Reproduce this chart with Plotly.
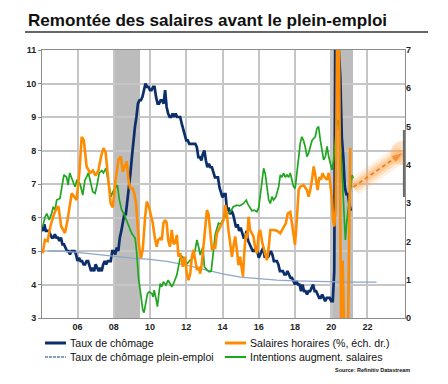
import plotly.graph_objects as go

# ---------------- data ----------------
# Taux de chômage (monthly, Jan 2004 -> Feb 2021), left axis
unemp_start = 2004.0
unemp = [
    5.7, 5.6, 5.8, 5.6, 5.6, 5.6, 5.5, 5.4, 5.4, 5.5, 5.4, 5.4,
    5.3, 5.4, 5.2, 5.2, 5.1, 5.0, 5.0, 4.9, 5.0, 5.0, 5.0, 4.9,
    4.7, 4.8, 4.7, 4.7, 4.6, 4.6, 4.7, 4.7, 4.5, 4.4, 4.5, 4.4,
    4.6, 4.5, 4.4, 4.5, 4.4, 4.6, 4.7, 4.6, 4.7, 4.7, 4.7, 5.0,
    5.0, 4.9, 5.1, 5.0, 5.4, 5.6, 5.8, 6.1, 6.1, 6.5, 6.8, 7.3,
    7.8, 8.3, 8.7, 9.0, 9.4, 9.5, 9.5, 9.6, 9.8, 10.0, 9.9, 9.9,
    9.8, 9.8, 9.9, 9.9, 9.6, 9.4, 9.4, 9.5, 9.5, 9.4, 9.8, 9.3,
    9.1, 9.0, 9.0, 9.1, 9.0, 9.1, 9.0, 9.0, 9.0, 8.8, 8.6, 8.5,
    8.3, 8.3, 8.2, 8.2, 8.2, 8.2, 8.2, 8.1, 7.8, 7.8, 7.7, 7.9,
    8.0, 7.7, 7.5, 7.6, 7.5, 7.5, 7.3, 7.2, 7.2, 7.2, 6.9, 6.7,
    6.6, 6.7, 6.7, 6.2, 6.3, 6.1, 6.2, 6.1, 5.9, 5.7, 5.8, 5.6,
    5.7, 5.5, 5.4, 5.4, 5.6, 5.3, 5.2, 5.1, 5.0, 5.0, 5.1, 5.0,
    4.8, 4.9, 5.0, 5.1, 4.8, 4.9, 4.8, 4.9, 5.0, 4.9, 4.7, 4.7,
    4.7, 4.6, 4.4, 4.4, 4.4, 4.3, 4.3, 4.4, 4.3, 4.2, 4.2, 4.1,
    4.0, 4.1, 4.0, 4.0, 3.8, 4.0, 3.8, 3.8, 3.7, 3.8, 3.8, 3.9,
    4.0, 3.8, 3.8, 3.7, 3.6, 3.6, 3.7, 3.6, 3.5, 3.6, 3.6, 3.6,
    3.5, 3.5, 4.4, 14.7, 13.2, 11.0, 10.2, 8.4, 7.8, 6.9, 6.7, 6.7,
    6.4, 6.2,
]
unemp_x = [unemp_start + i / 12 for i in range(len(unemp))]

# Taux de chômage plein-emploi, left axis
nairu_x = [2004.4, 2005, 2006, 2007, 2008, 2009, 2010, 2011, 2012, 2013, 2014,
           2015, 2016, 2017, 2018, 2019, 2020, 2021, 2022.5]
nairu = [5.0, 5.0, 4.96, 4.9, 4.84, 4.79, 4.75, 4.68, 4.58, 4.45, 4.32,
         4.22, 4.17, 4.13, 4.11, 4.09, 4.08, 4.07, 4.07]

# Salaires horaires (%, right axis)
wage_x = [2004.08, 2004.2, 2004.35, 2004.5, 2004.7, 2004.85, 2004.95, 2005.1, 2005.31, 2005.45,
          2005.68, 2005.8, 2005.95, 2006.1, 2006.23, 2006.35, 2006.5, 2006.69, 2006.85, 2007.0,
          2007.15, 2007.3, 2007.43, 2007.55, 2007.7, 2007.83, 2007.95, 2008.1, 2008.26, 2008.39,
          2008.5, 2008.62, 2008.72, 2008.81, 2008.9, 2009.03, 2009.13, 2009.23, 2009.3, 2009.4,
          2009.5, 2009.6, 2009.73, 2009.82, 2009.95, 2010.15, 2010.27, 2010.37, 2010.45, 2010.55,
          2010.65, 2010.74, 2010.83, 2010.92, 2011.0, 2011.1, 2011.2, 2011.3, 2011.4, 2011.48,
          2011.57, 2011.67, 2011.81, 2011.93, 2012.03, 2012.12, 2012.22, 2012.31, 2012.4, 2012.5,
          2012.59, 2012.68, 2012.77, 2012.86, 2012.95, 2013.04, 2013.14, 2013.23, 2013.32, 2013.42,
          2013.5, 2013.6, 2013.69, 2013.78, 2013.87, 2013.97, 2014.06, 2014.15, 2014.24, 2014.33,
          2014.43, 2014.52, 2014.6, 2014.7, 2014.8, 2014.88, 2014.97, 2015.07, 2015.13, 2015.2,
          2015.29, 2015.36, 2015.44, 2015.52, 2015.71, 2015.8, 2015.9, 2016.0, 2016.08, 2016.2,
          2016.35, 2016.45, 2016.55, 2016.64, 2016.82, 2017.0, 2017.19, 2017.37, 2017.5, 2017.6,
          2017.74, 2017.83, 2017.92, 2018.0, 2018.1, 2018.2, 2018.29, 2018.47, 2018.56, 2018.66,
          2018.75, 2018.84, 2018.94, 2019.03, 2019.1, 2019.17, 2019.25, 2019.34, 2019.43, 2019.52,
          2019.62, 2019.77, 2019.86, 2019.95, 2020.04, 2020.1, 2020.17, 2020.25, 2020.33, 2020.42,
          2020.55, 2020.63, 2020.72, 2020.92, 2021.05]
wage = [1.69, 2.04, 2.01, 2.39, 2.71, 2.87, 2.91, 2.39, 2.22, 2.56,
        3.26, 3.18, 3.08, 3.79, 4.73, 4.64, 3.96, 3.79, 3.85, 3.72,
        3.85, 4.22, 4.44, 4.33, 3.50, 2.99, 2.89, 3.61, 4.13, 4.22,
        3.82, 3.99, 4.09, 3.61, 3.39, 3.39, 3.26, 2.99, 2.54, 1.86,
        1.56, 1.79, 2.64, 3.04, 2.89, 2.48, 2.08, 1.86, 2.04, 2.08,
        2.04, 2.48, 2.56, 2.49, 2.04, 1.86, 2.30, 1.93, 1.97, 2.17,
        1.60, 1.69, 1.34, 1.60, 1.16, 0.99, 1.16, 1.60, 1.78, 1.43,
        1.25, 1.34, 1.16, 1.43, 1.95, 2.43, 2.82, 2.71, 2.30, 1.78,
        1.86, 1.84, 2.21, 2.30, 2.39, 2.48, 2.56, 2.95, 2.71, 2.28,
        1.95, 1.60, 1.86, 2.13, 1.75, 1.38, 1.60, 1.34, 1.08, 1.69,
        2.21, 2.08, 2.64, 2.30, 2.13, 1.84, 1.69, 2.21, 2.30, 1.95,
        1.66, 1.51, 1.84, 2.30, 2.30, 2.28, 2.21, 2.39, 2.48, 2.73,
        2.77, 2.48, 2.13, 1.91, 2.56, 3.34, 3.43, 3.47, 3.41, 3.34,
        3.17, 3.34, 3.61, 3.96, 3.79, 3.50, 3.34, 3.68, 3.61, 3.78,
        3.68, 3.61, 3.79, 3.50, 3.08, 2.56, 2.39, 2.89, 8.0, 7.5,
        -0.5, 1.5, -0.5, -0.5, 4.44]

# Intentions augment. salaires, left axis
intent_x = [2004.08, 2004.2, 2004.3, 2004.44, 2004.57, 2004.66, 2004.76, 2004.85, 2005.03, 2005.13,
            2005.25, 2005.4, 2005.48, 2005.57, 2005.73, 2005.86, 2005.96, 2006.14, 2006.29, 2006.41,
            2006.51, 2006.6, 2006.69, 2006.84, 2006.97, 2007.06, 2007.2, 2007.34, 2007.43, 2007.57,
            2007.65, 2007.76, 2007.85, 2007.95, 2008.13, 2008.2, 2008.31, 2008.44, 2008.55, 2008.65,
            2008.81, 2008.99, 2009.18, 2009.27, 2009.36, 2009.49, 2009.6, 2009.67, 2009.77, 2009.86,
            2009.95, 2010.1, 2010.17, 2010.23, 2010.33, 2010.41, 2010.48, 2010.56, 2010.65, 2010.74,
            2010.88, 2011.0, 2011.1, 2011.2, 2011.3, 2011.48, 2011.66, 2011.8, 2011.94, 2012.07,
            2012.21, 2012.35, 2012.49, 2012.59, 2012.68, 2012.77, 2012.92, 2013.0, 2013.14, 2013.27,
            2013.38, 2013.5, 2013.6, 2013.78, 2013.9, 2014.02, 2014.15, 2014.28, 2014.43, 2014.6,
            2014.8, 2014.95, 2015.16, 2015.31, 2015.4, 2015.5, 2015.62, 2015.75, 2015.9, 2016.0,
            2016.08, 2016.17, 2016.27, 2016.36, 2016.45, 2016.55, 2016.64, 2016.73, 2016.82, 2016.95,
            2017.1, 2017.19, 2017.28, 2017.37, 2017.46, 2017.56, 2017.65, 2017.74, 2017.83, 2017.92,
            2018.01, 2018.1, 2018.2, 2018.29, 2018.38, 2018.47, 2018.56, 2018.66, 2018.75, 2018.84,
            2018.94, 2019.03, 2019.12, 2019.21, 2019.3, 2019.4, 2019.49, 2019.58, 2019.68, 2019.77,
            2019.86, 2019.95, 2020.04, 2020.13, 2020.22, 2020.31, 2020.4, 2020.47, 2020.55, 2020.64,
            2020.73, 2020.78, 2020.85, 2020.96, 2021.06, 2021.15, 2021.22]
intent = [5.73, 6.0, 6.12, 5.93, 6.12, 6.32, 6.22, 6.52, 6.57, 6.92,
          7.27, 7.2, 6.97, 7.33, 7.1, 6.92, 7.1, 7.0, 6.67, 7.12,
          7.22, 7.33, 7.12, 6.77, 6.72, 6.92, 7.33, 7.4, 7.33, 7.47,
          7.22, 6.92, 6.62, 6.77, 6.92, 6.97, 6.52, 6.22, 6.12, 5.98,
          5.73, 5.53, 5.38, 4.93, 4.23, 3.73, 3.24, 3.16, 3.43, 3.73,
          3.78, 3.73, 3.63, 3.83, 3.58, 3.34, 3.68, 4.03, 3.93, 4.08,
          3.98, 4.13, 4.03, 3.93, 4.03, 4.28, 4.78, 4.83, 4.68, 4.63,
          4.73, 4.78, 5.03, 5.33, 5.13, 4.88, 5.13, 4.53, 4.43, 4.38,
          4.4, 5.1, 5.5, 5.83, 5.8, 5.93, 6.02, 6.12, 6.17, 6.32,
          6.37, 6.35, 6.42, 6.52, 6.4, 6.3, 6.2, 6.22, 6.17, 6.3,
          6.62, 7.12, 7.47, 7.3, 6.92, 6.52, 6.42, 6.62, 6.52, 6.62,
          6.92, 7.27, 7.2, 7.33, 7.2, 7.27, 7.2, 7.33, 7.12, 6.92,
          6.87, 7.33, 7.82, 8.22, 8.41, 8.3, 8.12, 7.82, 7.92, 8.12,
          8.3, 8.36, 8.41, 8.66, 8.71, 8.3, 8.0, 7.72, 7.82, 8.12,
          7.82, 7.62, 7.42, 7.72, 8.31, 8.81, 8.91, 8.6, 7.82, 6.82,
          5.73, 5.33, 5.83, 6.42, 6.92, 7.27, 7.17]

# recession bands and projection arrow (right-axis units)
recessions = [(2008.0, 2009.45), (2020.05, 2021.2)]
arrow_x = [2021.22, 2023.93]
arrow_y = [3.42, 4.31]
axis_mark = (3.16, 4.91)

x_ticks = [2006, 2008, 2010, 2012, 2014, 2016, 2018, 2020, 2022]
x_ticktext = ["06", "08", "10", "12", "14", "16", "18", "20", "22"]
left_ticks = [3, 4, 5, 6, 7, 8, 9, 10, 11]
right_ticks = [0, 1, 2, 3, 4, 5, 6, 7]

NAVY = "#0c2f6b"
ORANGE = "#ff8c00"
GREEN = "#1fa61f"
NAIRU_C = "#8ea6c8"
FONT = "Arial, Liberation Sans, sans-serif"

series_style = [
    ("Taux de chômage", NAVY, 2.6),
    ("Salaires horaires (%, éch. dr.)", ORANGE, 2.6),
    ("Taux de chômage plein-emploi", "#5f7fb0", 1.0),
    ("Intentions augment. salaires", GREEN, 1.7),
]

fig = go.Figure()

fig.add_trace(go.Scatter(x=unemp_x, y=unemp, name=series_style[0][0], mode="lines",
                         line=dict(color=NAVY, width=2.7), yaxis="y"))
fig.add_trace(go.Scatter(x=wage_x, y=wage, name=series_style[1][0], mode="lines",
                         line=dict(color=ORANGE, width=2.6), yaxis="y2"))
fig.add_trace(go.Scatter(x=nairu_x, y=nairu, name=series_style[2][0], mode="lines",
                         line=dict(color=NAIRU_C, width=1.3), yaxis="y"))
fig.add_trace(go.Scatter(x=intent_x, y=intent, name=series_style[3][0], mode="lines",
                         line=dict(color=GREEN, width=1.7), yaxis="y"))

# arrow glow + dashed arrow
for w, a in [(18, 0.16), (12, 0.22), (7, 0.3)]:
    fig.add_trace(go.Scatter(x=arrow_x, y=arrow_y, mode="lines", yaxis="y2", showlegend=False,
                             hoverinfo="skip",
                             line=dict(color=f"rgba(255,160,70,{a})", width=w)))
fig.add_trace(go.Scatter(x=arrow_x[1:], y=arrow_y[1:], mode="markers", yaxis="y2", showlegend=False,
                         hoverinfo="skip",
                         marker=dict(size=24, color="rgba(255,165,80,0.35)", line=dict(width=0))))
fig.add_trace(go.Scatter(x=arrow_x, y=arrow_y, mode="lines+markers", yaxis="y2", showlegend=False,
                         hoverinfo="skip",
                         line=dict(color="#f07f1e", width=1.8, dash="4px,3px"),
                         marker=dict(symbol="arrow", angleref="previous", size=[0, 11],
                                     color="#f07f1e", line=dict(width=0))))

shapes = []
for a, b in recessions:
    shapes.append(dict(type="rect", xref="x", yref="paper", x0=a, x1=b, y0=0, y1=1,
                       fillcolor="#bcbcbc", line=dict(width=0), layer="below"))
shapes.append(dict(type="line", xref="paper", yref="y2", x0=0.997, x1=0.997,
                   y0=axis_mark[0], y1=axis_mark[1], line=dict(color="#666666", width=2)))

# screen-pixel helpers: the page body adds an 8px offset, plot area sits at
# screen x 42..405, y 50..318
W_PLOT, H_PLOT, L_SCR, T_SCR = 363.0, 268.0, 42.0, 50.0
def px(x):
    return (x - L_SCR) / W_PLOT
def py(y):
    return (T_SCR + H_PLOT - y) / H_PLOT

# title underline
shapes.append(dict(type="line", xref="paper", yref="paper", x0=px(25), x1=px(428),
                   y0=py(32), y1=py(32), line=dict(color="#333333", width=1.3)))

# manual legend (two columns, two rows)
legend_pos = [(45, 343), (225, 343), (45, 357), (225, 357)]
annotations = []
for (name, col, lw), (lx, ly) in zip(series_style, legend_pos):
    shapes.append(dict(type="line", xref="paper", yref="paper", x0=px(lx), x1=px(lx + 21),
                       y0=py(ly), y1=py(ly), line=dict(color=col, width=lw + 0.4,
                                                         dash="3px,1px" if lw < 1.5 else "solid")))
    annotations.append(dict(text=name, xref="paper", yref="paper", x=px(lx + 23), y=py(ly),
                            xanchor="left", yanchor="middle", showarrow=False,
                            font=dict(size=10.6, family=FONT, color="#111111")))

annotations.append(dict(text="<b>Remontée des salaires avant le plein-emploi</b>", xref="paper",
                        yref="paper", x=px(26), y=py(20), xanchor="left", yanchor="middle",
                        showarrow=False, font=dict(size=17.1, family=FONT, color="#111111")))
annotations.append(dict(text="<b>Source: Refinitiv Datastream</b>", xref="paper", yref="paper",
                        x=px(412), y=py(370), xanchor="right", yanchor="middle", showarrow=False,
                        font=dict(size=5.5, family=FONT, color="#111111")))

fig.update_layout(
    width=440, height=376,
    margin=dict(l=34, r=43, t=42, b=66, autoexpand=False),
    paper_bgcolor="white", plot_bgcolor="white",
    font=dict(family=FONT, color="#111111"),
    shapes=shapes,
    annotations=annotations,
    showlegend=False,
    xaxis=dict(range=[2004.04, 2024.07], tickvals=x_ticks, ticktext=x_ticktext,
               showgrid=True, gridcolor="#c6c6c6", gridwidth=1.5,
               showline=True, linecolor="#8c8c8c", linewidth=1, mirror=True,
               ticks="", tickfont=dict(size=9, family=FONT, weight="bold", color="#222222"),
               zeroline=False),
    yaxis=dict(range=[3, 11], tickvals=left_ticks, showgrid=True, gridcolor="#c6c6c6", gridwidth=1.5,
               showline=True, linecolor="#8c8c8c", linewidth=1, mirror=True,
               ticks="outside", ticklen=3, tickcolor="#8c8c8c",
               tickfont=dict(size=9, family=FONT, weight="bold", color="#222222"),
               zeroline=False),
    yaxis2=dict(range=[0, 7], tickvals=right_ticks, overlaying="y", side="right",
                showgrid=False, zeroline=False, ticks="",
                tickfont=dict(size=9, family=FONT, weight="bold", color="#222222")),
)

fig.write_html("out.html")
